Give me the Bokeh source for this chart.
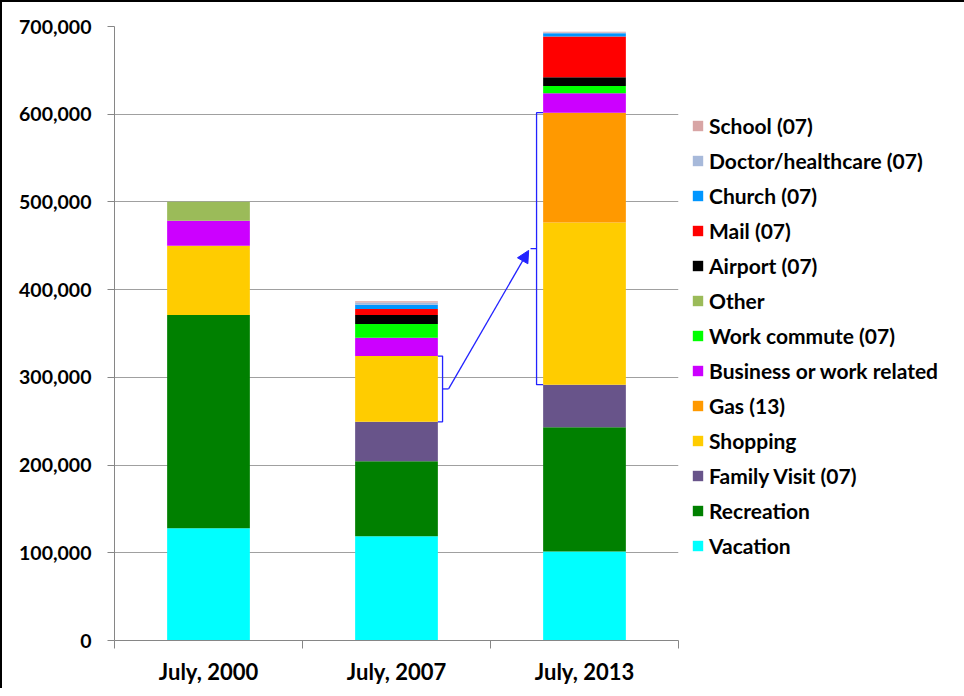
from bokeh.plotting import figure
from bokeh.models import (ColumnDataSource, Legend, LegendItem, FixedTicker,
                          NumeralTickFormatter, Range1d, Arrow, NormalHead,
                          SingleIntervalTicker)
from bokeh.embed import file_html
from bokeh.resources import INLINE

# ---------------- data ----------------
categories = ["July, 2000", "July, 2007", "July, 2013"]

vacation = [127900, 118800, 101600]
recreation = [243200, 85600, 141600]
family_visit = [0, 44900, 48500]
shopping = [78800, 75000, 184800]
gas = [0, 0, 125300]
business = [28500, 20900, 22000]
work_commute = [0, 15600, 8500]
other = [21700, 0, 0]
airport = [0, 10300, 9800]
mail = [0, 6900, 46400]
church = [0, 4900, 3800]
doctor = [0, 2300, 800]
school = [0, 1700, 800]

series_names = ["Vacation", "Recreation", "Family Visit (07)", "Shopping",
                "Gas (13)", "Business or work related", "Work commute (07)",
                "Other", "Airport (07)", "Mail (07)", "Church (07)",
                "Doctor/healthcare (07)", "School (07)"]
series_values = [vacation, recreation, family_visit, shopping, gas, business,
                 work_commute, other, airport, mail, church, doctor, school]
colors = ["#00FFFF", "#008000", "#68548A", "#FFCC00", "#FF9900", "#CC00FF",
          "#00FF00", "#9BBB59", "#000000", "#FF0000", "#0096FF", "#A7B9DA",
          "#D8A5A5"]

# ---------------- build ----------------
x_pos = [i + 0.5 for i in range(len(categories))]
keys = ["s%d" % i for i in range(len(series_names))]
data = {"x": x_pos}
for k, v in zip(keys, series_values):
    data[k] = v
source = ColumnDataSource(data)

FONT = "Lato"

p = figure(frame_width=564, frame_height=614,
           x_range=Range1d(0, len(categories)),
           y_range=Range1d(0, 700000), output_backend="svg",
           toolbar_location=None, min_border_left=112, min_border_top=24,
           min_border_right=0, min_border_bottom=48)
p.styles = {"border-top": "2px solid black", "border-left": "2px solid black",
            "border-right": "2px solid #555555"}
p.outline_line_color = None
p.background_fill_color = "white"
p.border_fill_color = "white"
p.xgrid.visible = False
p.ygrid.grid_line_color = "#A0A0A0"
p.ygrid.grid_line_width = 1

bar_w = 0.44
renderers = p.vbar_stack(keys, x="x", width=bar_w, fill_color=colors,
                         line_color=None, source=source)

# y axis
p.yaxis.ticker = SingleIntervalTicker(interval=100000, num_minor_ticks=0)
p.yaxis.formatter = NumeralTickFormatter(format="0,0")
p.yaxis.major_label_text_font = FONT
p.yaxis.major_label_text_font_style = "bold"
p.yaxis.major_label_text_font_size = "19.5px"
p.yaxis.major_label_text_color = "black"
p.yaxis.axis_line_color = "#868686"
p.yaxis.major_tick_line_color = "#868686"
p.yaxis.major_tick_out = 7
p.yaxis.major_tick_in = 0
p.yaxis.minor_tick_line_color = None
p.yaxis.major_label_standoff = 16

# x axis: labels at centres, tick marks at boundaries
p.xaxis.ticker = FixedTicker(ticks=x_pos,
                             minor_ticks=list(range(len(categories) + 1)))
p.xaxis.major_label_overrides = {x: c for x, c in zip(x_pos, categories)}
p.xaxis.major_label_text_font = FONT
p.xaxis.major_label_text_font_style = "bold"
p.xaxis.major_label_text_font_size = "22px"
p.xaxis.major_label_text_color = "black"
p.xaxis.axis_line_color = "#868686"
p.xaxis.major_tick_line_color = None
p.xaxis.major_tick_out = 0
p.xaxis.major_tick_in = 0
p.xaxis.minor_tick_line_color = "#868686"
p.xaxis.minor_tick_out = 8
p.xaxis.minor_tick_in = 0
p.xaxis.major_label_standoff = 9

# brackets around Shopping (+Gas) segments and connecting arrow
def span(i):
    lo = vacation[i] + recreation[i] + family_visit[i]
    hi = lo + shopping[i] + gas[i]
    return lo, hi, (lo + hi) / 2

BLUE = "#2222FF"
lo1, hi1, mid1 = span(1)
e1 = x_pos[1] + bar_w / 2
v1 = e1 + 0.025
t1 = v1 + 0.032
lo2, hi2, mid2 = span(2)
e2 = x_pos[2] - bar_w / 2
v2 = e2 - 0.035
t2 = v2 - 0.032

p.multi_line(xs=[[e1, v1, v1, e1], [v1, t1], [e2, v2, v2, e2], [v2, t2]],
             ys=[[hi1, hi1, lo1, lo1], [mid1, mid1], [hi2, hi2, lo2, lo2],
                 [mid2, mid2]],
             line_color=BLUE, line_width=1.3)
p.add_layout(Arrow(end=NormalHead(size=12, fill_color=BLUE, line_color=BLUE),
                   x_start=t1, y_start=mid1, x_end=t2 - 0.01, y_end=mid2 - 2000,
                   line_color=BLUE, line_width=1.3))

# legend (reverse stacking order), in the right panel
items = [LegendItem(label=n, renderers=[r])
         for n, r in reversed(list(zip(series_names, renderers)))]
legend = Legend(items=items, location=(13, 82),
                label_text_font=FONT, label_text_font_style="bold",
                label_text_font_size="21px", label_text_color="black",
                glyph_width=13, glyph_height=13, label_standoff=5,
                spacing=10, padding=10, margin=4, border_line_color=None,
                background_fill_alpha=0)
p.add_layout(legend, "right")

open("out.html", "w").write(file_html(p, INLINE))
